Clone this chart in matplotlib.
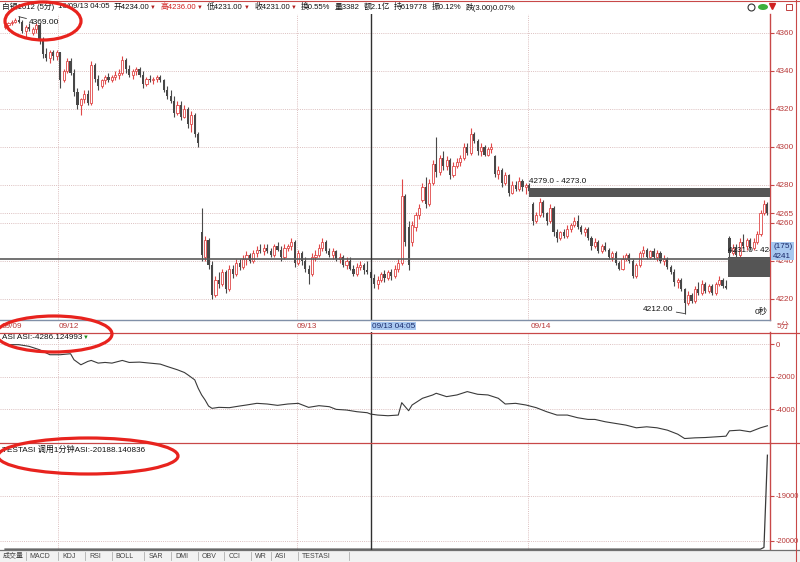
import numpy as np
import matplotlib
matplotlib.use('Agg')
import matplotlib.pyplot as plt
from matplotlib.patches import Ellipse, Rectangle
from matplotlib.lines import Line2D

plt.rcParams['font.family'] = ['Liberation Sans', 'Noto Sans CJK SC', 'DejaVu Sans']

W, H = 800, 562

# 5-minute bars, silver 1612 (index 0 = first visible bar)
opens = [4363, 4364, 4365, 4366, 4367, 4366, 4361, 4363, 4360, 4362,
         4364, 4356, 4349, 4347, 4350, 4348, 4350, 4335, 4340, 4345,
         4339, 4329, 4322, 4325, 4328, 4323, 4343, 4336, 4332, 4335,
         4337, 4335, 4337, 4338, 4339, 4346, 4341, 4338, 4340, 4341,
         4338, 4333, 4336, 4335, 4336, 4337, 4335, 4330, 4327, 4324,
         4318, 4322, 4316, 4320, 4312, 4317, 4307, 4255, 4242, 4251,
         4238, 4222, 4230, 4228, 4234, 4225, 4236, 4233, 4239, 4237,
         4241, 4243, 4240, 4244, 4246, 4245, 4247, 4245, 4243, 4248,
         4246, 4242, 4247, 4248, 4250, 4239, 4244, 4240, 4236, 4233,
         4242, 4243, 4247, 4250, 4245, 4243, 4245, 4241, 4242, 4238,
         4240, 4236, 4233, 4237, 4238, 4235, 4234, 4231, 4228, 4230,
         4233, 4231, 4234, 4232, 4236, 4239, 4274, 4258, 4250, 4258,
         4264, 4272, 4279, 4270, 4281, 4291, 4287, 4294, 4290, 4293,
         4285, 4290, 4292, 4294, 4300, 4297, 4307, 4303, 4298, 4300,
         4296, 4299, 4295, 4286, 4288, 4281, 4285, 4276, 4280, 4278,
         4282, 4279, 4280, 4270, 4261, 4264, 4271, 4265, 4261, 4268,
         4255, 4252, 4255, 4253, 4257, 4259, 4261, 4258, 4255, 4257,
         4252, 4248, 4250, 4245, 4248, 4246, 4242, 4244, 4239, 4236,
         4241, 4243, 4240, 4232, 4238, 4244, 4246, 4242, 4245, 4242,
         4244, 4240, 4241, 4237, 4234, 4229, 4230, 4225, 4218, 4222,
         4219, 4225, 4223, 4228, 4224, 4227, 4223, 4228, 4230, 4227,
         4252, 4244, 4247, 4243, 4250, 4248, 4251, 4247, 4250, 4254,
         4265, 4270]
highs = [4365, 4366, 4367, 4368, 4369, 4367, 4364, 4365, 4363, 4365,
         4365, 4358, 4352, 4351, 4351, 4351, 4350, 4341, 4347, 4347,
         4341, 4331, 4326, 4330, 4330, 4345, 4344, 4338, 4336, 4338,
         4339, 4338, 4340, 4341, 4348, 4347, 4343, 4341, 4342, 4342,
         4340, 4337, 4338, 4337, 4338, 4338, 4336, 4332, 4330, 4327,
         4324, 4324, 4322, 4321, 4319, 4318, 4308, 4268, 4253, 4252,
         4240, 4232, 4234, 4236, 4235, 4238, 4238, 4241, 4241, 4243,
         4245, 4244, 4246, 4248, 4249, 4249, 4249, 4247, 4249, 4250,
         4248, 4249, 4249, 4252, 4251, 4246, 4245, 4242, 4238, 4244,
         4246, 4249, 4252, 4251, 4247, 4247, 4246, 4244, 4243, 4242,
         4242, 4238, 4239, 4240, 4239, 4240, 4236, 4233, 4232, 4234,
         4235, 4235, 4236, 4238, 4241, 4283, 4275, 4261, 4261, 4266,
         4270, 4281, 4284, 4283, 4293, 4305, 4296, 4298, 4295, 4294,
         4292, 4294, 4296, 4302, 4302, 4310, 4308, 4304, 4302, 4301,
         4300, 4302, 4296, 4290, 4289, 4287, 4286, 4282, 4282, 4284,
         4283, 4281, 4281, 4271, 4266, 4273, 4272, 4266, 4270, 4269,
         4257, 4256, 4257, 4259, 4260, 4263, 4264, 4259, 4258, 4258,
         4253, 4252, 4251, 4249, 4250, 4247, 4245, 4245, 4240, 4243,
         4244, 4244, 4241, 4239, 4245, 4248, 4247, 4246, 4247, 4246,
         4245, 4243, 4242, 4238, 4236, 4231, 4231, 4226, 4224, 4223,
         4227, 4229, 4230, 4229, 4228, 4228, 4229, 4232, 4231, 4230,
         4253, 4249, 4249, 4252, 4254, 4252, 4252, 4252, 4256, 4267,
         4272, 4271]
lows = [4362, 4363, 4364, 4365, 4365, 4360, 4358, 4361, 4359, 4360,
        4354, 4347, 4345, 4344, 4346, 4346, 4331, 4334, 4339, 4338,
        4327, 4320, 4317, 4323, 4322, 4322, 4334, 4330, 4331, 4333,
        4334, 4334, 4335, 4336, 4338, 4339, 4337, 4336, 4338, 4337,
        4331, 4332, 4334, 4333, 4334, 4334, 4329, 4325, 4323, 4316,
        4317, 4314, 4315, 4310, 4308, 4305, 4300, 4240, 4240, 4236,
        4220, 4221, 4226, 4227, 4223, 4224, 4231, 4232, 4235, 4236,
        4238, 4239, 4239, 4242, 4244, 4243, 4244, 4242, 4242, 4245,
        4240, 4241, 4245, 4246, 4237, 4238, 4238, 4234, 4228, 4232,
        4240, 4242, 4245, 4244, 4242, 4241, 4240, 4239, 4237, 4236,
        4235, 4232, 4232, 4235, 4233, 4233, 4231, 4226, 4225, 4229,
        4229, 4230, 4230, 4231, 4234, 4238, 4248, 4235, 4248, 4256,
        4262, 4271, 4268, 4269, 4280, 4284, 4285, 4288, 4288, 4283,
        4284, 4289, 4290, 4293, 4296, 4296, 4302, 4296, 4295, 4295,
        4295, 4297, 4284, 4283, 4279, 4280, 4274, 4275, 4277, 4277,
        4277, 4275, 4276, 4259, 4260, 4263, 4263, 4259, 4260, 4253,
        4250, 4251, 4252, 4252, 4255, 4258, 4257, 4254, 4253, 4251,
        4246, 4247, 4244, 4244, 4245, 4241, 4240, 4238, 4235, 4235,
        4240, 4239, 4231, 4231, 4237, 4242, 4241, 4241, 4241, 4240,
        4239, 4238, 4236, 4233, 4227, 4226, 4224, 4212, 4217, 4218,
        4218, 4222, 4222, 4223, 4223, 4222, 4222, 4227, 4226, 4225,
        4242, 4243, 4241, 4242, 4247, 4246, 4246, 4246, 4249, 4253,
        4264, 4264]
closes = [4364, 4365, 4366, 4367, 4366, 4361, 4363, 4362, 4362, 4364,
          4356, 4349, 4347, 4350, 4348, 4350, 4335, 4340, 4345, 4339,
          4329, 4322, 4325, 4328, 4323, 4343, 4336, 4332, 4335, 4337,
          4335, 4337, 4338, 4339, 4346, 4341, 4338, 4340, 4341, 4338,
          4333, 4336, 4335, 4336, 4337, 4335, 4330, 4327, 4324, 4318,
          4322, 4316, 4320, 4312, 4317, 4307, 4302, 4243, 4251, 4238,
          4222, 4230, 4228, 4234, 4225, 4236, 4233, 4239, 4237, 4241,
          4243, 4240, 4244, 4246, 4245, 4247, 4245, 4243, 4248, 4246,
          4242, 4247, 4248, 4250, 4239, 4244, 4240, 4236, 4233, 4242,
          4243, 4247, 4250, 4245, 4243, 4245, 4241, 4242, 4238, 4240,
          4236, 4233, 4237, 4238, 4235, 4234, 4231, 4228, 4230, 4233,
          4231, 4234, 4232, 4236, 4239, 4274, 4250, 4238, 4259, 4264,
          4268, 4279, 4270, 4281, 4291, 4287, 4294, 4290, 4293, 4285,
          4290, 4292, 4294, 4300, 4297, 4307, 4303, 4298, 4300, 4296,
          4299, 4300, 4286, 4288, 4281, 4285, 4276, 4280, 4278, 4282,
          4279, 4280, 4277, 4261, 4264, 4271, 4265, 4261, 4268, 4255,
          4252, 4255, 4253, 4257, 4259, 4261, 4258, 4255, 4257, 4252,
          4248, 4250, 4245, 4248, 4246, 4242, 4244, 4239, 4236, 4241,
          4243, 4240, 4232, 4238, 4244, 4246, 4242, 4245, 4242, 4244,
          4240, 4241, 4237, 4234, 4229, 4230, 4225, 4218, 4222, 4219,
          4225, 4223, 4228, 4224, 4227, 4223, 4228, 4230, 4227, 4226,
          4244, 4247, 4243, 4250, 4248, 4251, 4247, 4250, 4254, 4265,
          4270, 4265]

# ASI indicator sampled at bar indices
asi_idx = [0, 4, 7, 10, 13, 16, 19, 20, 22, 24, 25, 27, 29, 31, 34, 36, 39, 42, 45, 47,
           50, 52, 53, 55, 56, 57, 58, 59, 60, 62, 65, 68, 70, 73, 76, 79, 82, 85, 88, 91,
           94, 96, 99, 102, 105, 106, 108, 111, 114, 115, 117, 118, 121, 124, 125, 128, 131,
           134, 137, 140, 143, 145, 148, 151, 154, 157, 160, 163, 166, 169, 171, 174, 177,
           180, 183, 186, 189, 192, 195, 197, 200, 203, 206, 209, 210, 213, 216, 219, 221]
asi_vals = [-41, -41, -144, -349, -656, -656, -595, -964, -1271, -1066,
            -1005, -1169, -1128, -1169, -1005, -1128, -1107, -1169, -1230, -1374,
            -1579, -1743, -1886, -2194, -2706, -3116, -3424, -3793, -3936, -3875,
            -3895, -3793, -3731, -3629, -3670, -3752, -3670, -3629, -3875, -3772,
            -3834, -3998, -4039, -4141, -4203, -4286, -4346, -4387, -4346, -3588,
            -4080, -3731, -3321, -3116, -3014, -3219, -3116, -2911, -3075, -3116,
            -3321, -3670, -3629, -3731, -3895, -4141, -4346, -4346, -4510, -4613,
            -4613, -4756, -4859, -4961, -5125, -5064, -5125, -5269, -5515, -5781,
            -5740, -5720, -5679, -5638, -5310, -5269, -5371, -5125, -5002]

# TESTASI (1-minute ASI called from 5-minute chart)
test_idx = [0, 219, 220, 221]
test_vals = [-20188, -20188, -20150, -18100]

price_ticks = [4220, 4240, 4260, 4280, 4300, 4320, 4340, 4360]
asi_ticks = [0, -2000, -4000]
test_ticks = [-19000, -20000]

date_labels = ['09/09', '09/12', '09/13', '09/14']
date_pos = [-0.9, 15.6, 84.6, 152.3]
day_breaks = [15.5, 84.5, 151.5]
cursor = 106

# header: (text, colour, trailing marker)
header = [('白银1612 (5分)', '#111111', False), ('16/09/13 04:05', '#111111', False),
          ('开4234.00', '#111111', True), ('高4236.00', '#d02020', True),
          ('低4231.00', '#111111', True), ('收4231.00', '#111111', True),
          ('换0.55%', '#111111', False), ('量3382', '#111111', False),
          ('额2.1亿', '#111111', False), ('持619778', '#111111', False),
          ('振0.12%', '#111111', False), ('跌(3.00)0.07%', '#111111', False)]

tabs = ['成交量', 'MACD', 'KDJ', 'RSI', 'BOLL', 'SAR', 'DMI', 'OBV', 'CCI', 'WR', 'ASI', 'TESTASI']

UP = '#e04848'
DN = '#484848'
AXC = '#c84848'
TXC = '#b83838'
GRID = '#dcc0c0'
XL, XR = -1.45, 221.75


def px_rect(x0, y0, x1, y1):
    return [x0 / W, 1 - y1 / H, (x1 - x0) / W, (y1 - y0) / H]


def fx(x):
    return x / W


def fy(y):
    return 1 - y / H


def fig_line(fig, x0, y0, x1, y1, **kw):
    fig.add_artist(Line2D([fx(x0), fx(x1)], [fy(y0), fy(y1)], transform=fig.transFigure, **kw))


def style_axis(ax, ticks, labels, ylim, size=5.9):
    ax.set_xlim(XL, XR)
    ax.set_ylim(*ylim)
    ax.set_facecolor('none')
    for s in ('left', 'top', 'bottom'):
        ax.spines[s].set_visible(False)
    ax.spines['right'].set_color(AXC)
    ax.spines['right'].set_linewidth(1.0)
    ax.set_xticks([])
    ax.yaxis.tick_right()
    ax.set_yticks(ticks)
    ax.set_yticklabels(labels)
    ax.tick_params(axis='y', colors=AXC, labelcolor=TXC, length=3, width=0.8,
                   labelsize=size, pad=1.2)
    for t in ticks:
        ax.axhline(t, color=GRID, lw=0.7, ls=(0, (1, 1.2)), zorder=0)
    for b in day_breaks:
        ax.axvline(b, color=GRID, lw=0.7, ls=(0, (1, 1.2)), zorder=0)


fig = plt.figure(figsize=(8, 5.62), dpi=100)
fig.patch.set_facecolor('white')
renderer = fig.canvas.get_renderer()

# ---- main candle panel
ax = fig.add_axes(px_rect(0, 14, 770, 320))
style_axis(ax, price_ticks + [4265], [str(t) for t in price_ticks] + ['4265'], (4208.9, 4370))

x = np.arange(len(closes))
o, h, l, c = map(np.array, (opens, highs, lows, closes))
up = c >= o
ax.vlines(x[up], l[up], h[up], color=UP, lw=0.8, zorder=2)
ax.vlines(x[~up], l[~up], h[~up], color=DN, lw=0.8, zorder=2)
body_lo = np.minimum(o, c)
body_h = np.maximum(np.abs(c - o), 0.4)
ax.bar(x[up], body_h[up], bottom=body_lo[up], width=0.62, facecolor='white',
       edgecolor=UP, linewidth=0.6, zorder=3)
ax.bar(x[~up], body_h[~up], bottom=body_lo[~up], width=0.62, color=DN,
       linewidth=0, zorder=3)

# support / resistance bands
ax.add_patch(Rectangle((151.9, 4273.7), XR - 151.9, 4.8, facecolor='#555555',
                       edgecolor='none', zorder=4))
ax.add_patch(Rectangle((209.6, 4231.7), XR - 209.6, 10.2, facecolor='#555555',
                       edgecolor='none', zorder=4))
ax.text(152, 4281.8, '4279.0 - 4273.0', fontsize=5.9, color='#111111', va='center', zorder=5)
ax.text(209.6, 4245.6, '4231.0 - 4241.0', fontsize=5.9, color='#111111', va='center',
        zorder=5, clip_on=True)
ax.axhline(4241, color='#5a5a5a', lw=1.2, zorder=4)
ax.axvline(cursor, color='#303030', lw=1.0, zorder=4)

ax.annotate('4369.00', xy=(4, 4368.6), xytext=(7.5, -4.5), textcoords='offset points',
            fontsize=6, color='#111111', va='center', ha='left',
            arrowprops=dict(arrowstyle='-', lw=0.6, color='#333333', shrinkA=0, shrinkB=0))
ax.annotate('4212.00', xy=(197, 4212.3), xytext=(-8, 3.2), textcoords='offset points',
            fontsize=6, color='#111111', va='center', ha='right',
            arrowprops=dict(arrowstyle='-', lw=0.6, color='#333333', shrinkA=0, shrinkB=0))
ax.text(217.2, 4213.2, '0秒', fontsize=6, color='#111111', va='center')

# ---- date bar
axd = fig.add_axes(px_rect(0, 320, 770, 332))
axd.set_xlim(XL, XR)
axd.set_ylim(0, 1)
axd.axis('off')
for lab, p in zip(date_labels, date_pos):
    axd.text(p, 0.45, lab, fontsize=5.9, color=TXC, va='center', ha='left')
axd.text(cursor + 0.3, 0.5, '09/13 04:05', fontsize=5.9, color='#1a2a6a', va='center',
         ha='left', bbox=dict(boxstyle='square,pad=0.12', facecolor='#a8c8f0', edgecolor='none'))

# ---- ASI panel
axa = fig.add_axes(px_rect(0, 332, 770, 443))
style_axis(axa, asi_ticks, ['0', '-2000', '-4000'], (-6055, 734), size=5.6)
axa.plot(asi_idx, asi_vals, color='#3a3a3a', lw=0.8, zorder=3)
axa.axvline(cursor, color='#303030', lw=1.0, zorder=4)
asi_t = axa.text(-0.9, 0.985, 'ASI ASI:-4286.124993', fontsize=5.9, color='#111111', va='top',
                 ha='left', transform=axa.get_xaxis_transform())
bb = asi_t.get_window_extent(renderer)
fig.text(fx(bb.x1 + 0.8), (bb.y0 + bb.y1) / 2 / H, '▼', fontsize=4.2, color='#1a8a1a',
         va='center', ha='left')

# ---- TESTASI panel
axt = fig.add_axes(px_rect(0, 443, 770, 550))
style_axis(axt, test_ticks, ['-19000', '-20000'], (-20207, -17829), size=5.4)
axt.plot(test_idx, test_vals, color='#3a3a3a', lw=0.9, zorder=3)
axt.axvline(cursor, color='#303030', lw=1.0, zorder=4)
axt.text(-0.9, 0.975, 'TESTASI 调用1分钟ASI:-20188.140836', fontsize=5.9, color='#111111',
         va='top', ha='left', transform=axt.get_xaxis_transform())

# ---- frame lines
fig_line(fig, 0, 1, 800, 1, color=AXC, lw=0.8)
fig_line(fig, 0, 320, 770, 320, color='#8090a8', lw=1.0)
fig_line(fig, 0, 332.5, 800, 332.5, color=AXC, lw=0.9)
fig_line(fig, 0, 443, 800, 443, color=AXC, lw=0.9)
fig_line(fig, 0, 550, 800, 550, color='#707070', lw=0.9)
fig_line(fig, 796, 0, 796, 562, color=AXC, lw=0.8)

# header, laid out left to right between x=2 and x=515
hdr = []
for s, col, mark in header:
    t = fig.text(0, fy(7), s, fontsize=5.6, color=col, va='center', ha='left')
    wd = t.get_window_extent(renderer).width + (7 if mark else 0)
    hdr.append((t, mark, wd))
gap = (515 - 2 - sum(w for _, _, w in hdr)) / (len(hdr) - 1)
xp = 2
for t, mark, wd in hdr:
    t.set_x(fx(xp))
    if mark:
        fig.text(fx(xp + wd - 6.5), fy(7), '▼', fontsize=4.2, color='#b02020',
                 va='center', ha='left')
    xp += wd + gap

# top right icons
fig.add_artist(Line2D([fx(751)], [fy(7)], marker='o', ms=5, mfc='white', mec='#333333',
                      mew=0.8, transform=fig.transFigure))
fig.add_artist(Ellipse((fx(763), fy(7)), 10 / W, 6 / H, facecolor='#3cb03c',
                       edgecolor='none', transform=fig.transFigure))
fig.add_artist(Line2D([fx(772)], [fy(6)], marker='v', ms=4, color='#d02020',
                      transform=fig.transFigure))
fig.add_artist(Rectangle((fx(786), fy(10)), 6 / W, 6 / H, facecolor='white',
                         edgecolor='#c04040', lw=0.7, transform=fig.transFigure))

# right side labels
fig.text(fx(777), fy(326), '5分', fontsize=5.9, color=TXC, va='center', ha='left')
fig.add_artist(Rectangle((fx(771), fy(260)), 23 / W, 18 / H, facecolor='#a8c8f0',
                         edgecolor='none', transform=fig.transFigure))
fig.text(fx(773), fy(247), '(175)', fontsize=5.9, color='#1a2a6a', va='center', ha='left')
fig.text(fx(773), fy(256), '4241', fontsize=5.9, color='#1a2a6a', va='center', ha='left')

# bottom tab bar
fig.add_artist(Rectangle((0, 0), 1, 11.5 / H, facecolor='#f2f2f2', edgecolor='none',
                         transform=fig.transFigure))
xp = 3
for t in tabs:
    fig.text(fx(xp), fy(556), t, fontsize=5, color='#444444', va='center', ha='left')
    xp += 8 + 6.2 * len(t)
    fig_line(fig, xp - 4, 552, xp - 4, 560, color='#b0b0b0', lw=0.6)

# red annotation ellipses
for cx, cy, ew, eh in [(43, 21, 76, 38), (54, 334, 116, 36), (88, 456, 180, 36)]:
    fig.add_artist(Ellipse((fx(cx), fy(cy)), ew / W, eh / H, facecolor='none',
                           edgecolor='#e8231e', lw=2.3, transform=fig.transFigure, zorder=10))

fig.savefig('out.png', dpi=100)
